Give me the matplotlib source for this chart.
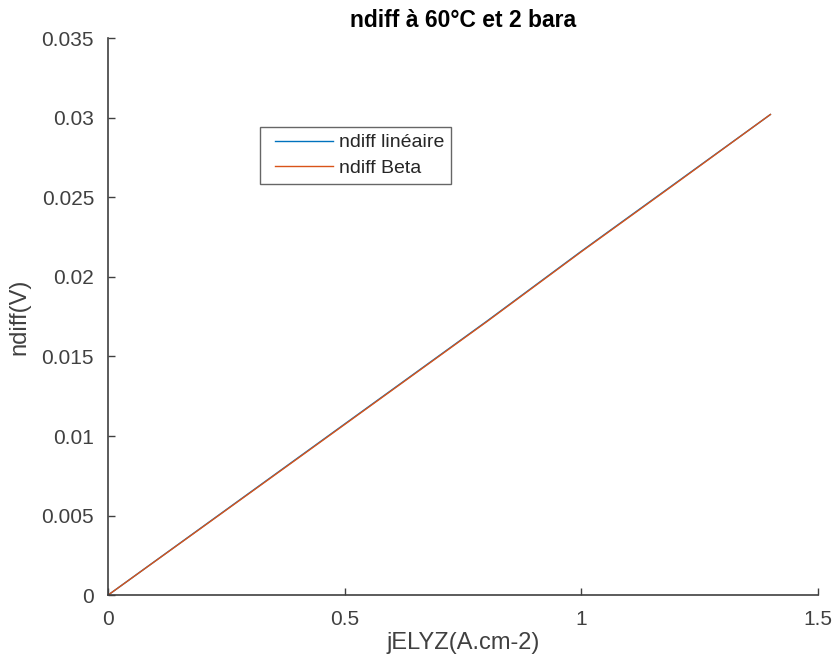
import numpy as np
import matplotlib
matplotlib.use('Agg')
import matplotlib.pyplot as plt
from matplotlib.legend_handler import HandlerLine2D

plt.rcParams['font.family'] = ['Liberation Sans', 'DejaVu Sans']

# courant (A.cm-2) et surtension de diffusion (V)
jELYZ = [0, 0.2, 0.4, 0.6, 0.8, 1.0, 1.2, 1.4]
ndiff_lin = [0, 0.0043, 0.0086, 0.0129, 0.0172, 0.0216, 0.0259, 0.0302]
ndiff_beta = [0, 0.00428, 0.00857, 0.01287, 0.01717, 0.02157, 0.02587, 0.0302]

fig = plt.figure(figsize=(8.37, 6.68), dpi=100)
ax = fig.add_axes([0.129, 0.109, 0.848, 0.834])

l1, = ax.plot(jELYZ, ndiff_lin, color='#0072BD', lw=1.0, label='ndiff linéaire')
l2, = ax.plot(jELYZ, ndiff_beta, color='#D95319', lw=1.0, label='ndiff Beta')

ax.set_xlim(0, 1.5)
ax.set_ylim(0, 0.035)
ax.set_xticks([0, 0.5, 1, 1.5])
ax.set_xticklabels(['0', '0.5', '1', '1.5'])
ax.set_yticks(np.arange(0, 0.0351, 0.005))
ax.set_yticklabels(['0', '0.005', '0.01', '0.015', '0.02', '0.025', '0.03', '0.035'])

for s in ['top', 'right']:
    ax.spines[s].set_visible(False)
for s in ['left', 'bottom']:
    ax.spines[s].set_color('#404040')
    ax.spines[s].set_linewidth(1.2)
ax.tick_params(direction='in', length=5, width=1.0, colors='#404040',
               labelsize=15)
ax.tick_params(axis='x', pad=11)
ax.tick_params(axis='y', pad=10)

ax.set_xlabel('jELYZ(A.cm-2)', fontsize=17, color='#404040', labelpad=2)
ax.set_ylabel('ndiff(V)', fontsize=17, color='#404040', labelpad=8)
ax.set_title('ndiff à 60°C et 2 bara', fontsize=16.5, fontweight='bold', pad=8)

hm = {l1: HandlerLine2D(xpad=0.4), l2: HandlerLine2D(xpad=0.4)}
leg = ax.legend(handler_map=hm, loc='upper left',
                bbox_to_anchor=(260 / 837, 1 - 127 / 668),
                bbox_transform=fig.transFigure, fontsize=14,
                frameon=True, fancybox=False, edgecolor='#404040',
                handlelength=3.4, handletextpad=0.3, borderpad=0.35,
                labelspacing=0.4, borderaxespad=0)
leg.get_frame().set_linewidth(1.0)
for t in leg.get_texts():
    t.set_color('#262626')

plt.savefig('out.png', dpi=100)
